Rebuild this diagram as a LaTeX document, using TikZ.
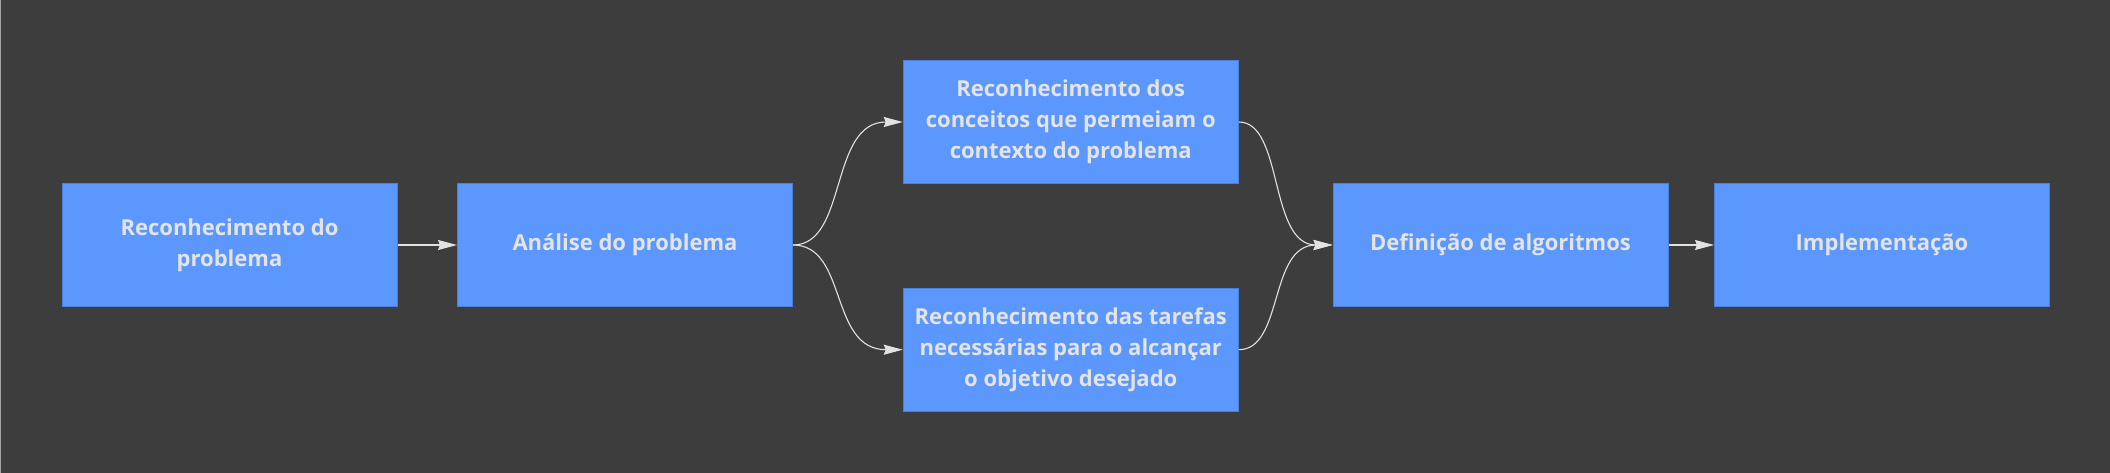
\documentclass[tikz,border=0pt]{standalone}
\usepackage{fontspec}
\setmainfont{Open Sans}
\usetikzlibrary{arrows.meta}
\definecolor{bgc}{HTML}{3D3D3D}
\definecolor{boxfill}{HTML}{5C97FE}
\definecolor{boxline}{HTML}{4A80DD}
\definecolor{txtc}{HTML}{E4E4E4}
\definecolor{linec}{HTML}{E2E2E2}
\tikzset{
  stepbox/.style={rectangle, fill=boxfill, draw=boxline, line width=1pt,
    minimum width=335pt, minimum height=123pt, inner sep=0pt, align=center,
    text=txtc, font=\fontsize{22pt}{30.8pt}\selectfont\bfseries},
  conn/.style={draw=linec, line width=1.1pt,
    -{Stealth[length=19pt,width=10pt,inset=2pt]}}
}
\begin{document}
\begin{tikzpicture}[x=1pt,y=-1pt]
\fill[bgc] (0,0) rectangle (2110,473);
\useasboundingbox (0,0) rectangle (2110,473);
\draw[gray!70, line width=1pt] (0.5,0) -- (0.5,473);
\node[stepbox] (b1) at (229.5,245) {Reconhecimento do\\problema};
\node[stepbox] (b2) at (625,245) {Análise do problema};
\node[stepbox] (b3) at (1070.75,122) {Reconhecimento dos\\conceitos que permeiam o\\contexto do problema};
\node[stepbox] (b4) at (1070.75,349.7) {Reconhecimento das tarefas\\necessárias para o alcançar\\o objetivo desejado};
\node[stepbox] (b5) at (1500.5,245) {Definição de algoritmos};
\node[stepbox] (b6) at (1882,245) {Implementação};
\draw[conn] (b1.east) -- (b2.west);
\draw[conn] (b2.east) .. controls +(55,0) and +(-74,0) .. (b3.west);
\draw[conn] (b2.east) .. controls +(55,0) and +(-74,0) .. (b4.west);
\draw[conn] (b3.east) .. controls +(45,0) and +(-64,0) .. (b5.west);
\draw[conn] (b4.east) .. controls +(45,0) and +(-64,0) .. (b5.west);
\draw[conn] (b5.east) -- (b6.west);
\end{tikzpicture}
\end{document}
